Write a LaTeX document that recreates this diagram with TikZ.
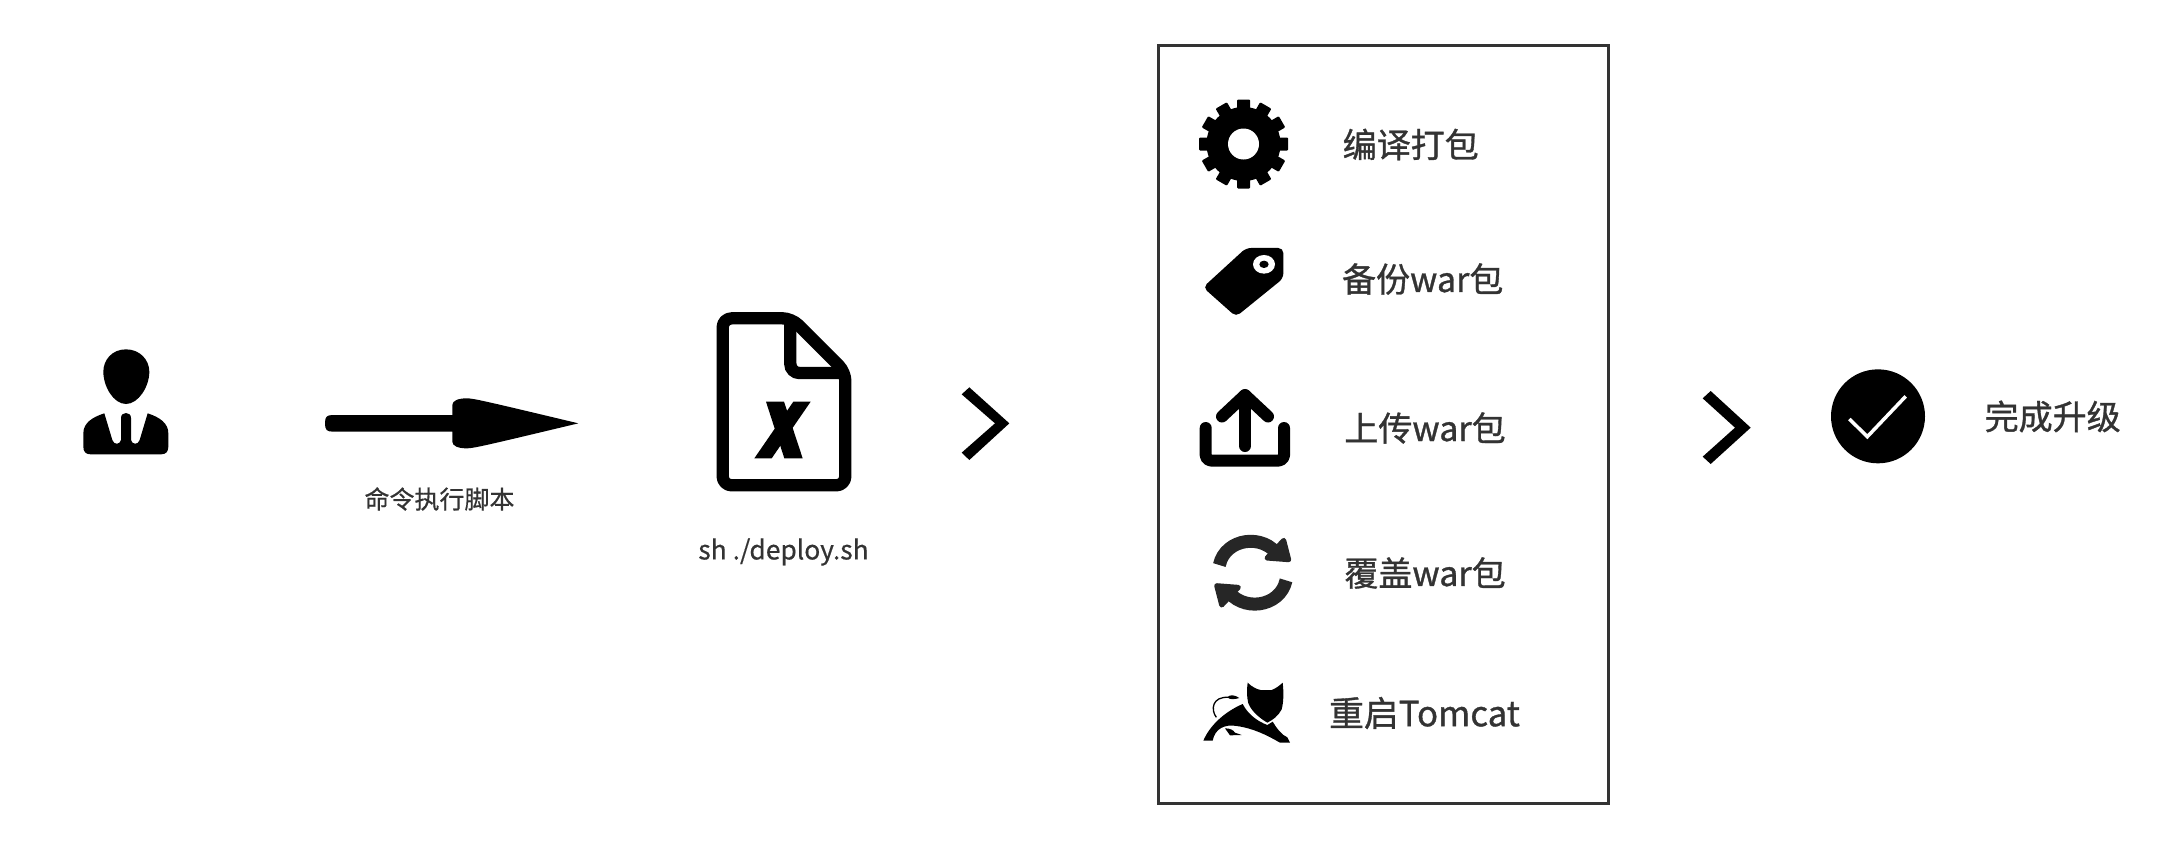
\documentclass[tikz,border=0pt]{standalone}
\usepackage{fontspec}
\setmainfont{Noto Sans CJK SC}
\newfontfamily\labelfont{Noto Sans CJK SC}[FakeBold=1]
\newfontfamily\smallfont{Noto Sans CJK SC}[FakeBold=0.5]
\definecolor{ink}{HTML}{333333}
\definecolor{refreshink}{HTML}{262626}
\tikzset{
  px/.style={x=0.33333pt,y=-0.33333pt},
  label/.style={text=ink,inner sep=0pt,font=\labelfont\fontsize{34}{40}\selectfont},
  smalllabel/.style={text=ink,inner sep=0pt,font=\smallfont\fontsize{25}{30}\selectfont},
  codelabel/.style={text=ink,inner sep=0pt,font=\smallfont\fontsize{26.4}{30}\selectfont},
  bar/.style={draw=black,line width=12pt,line cap=round,line join=round},
}
\begin{document}
\begin{tikzpicture}[x=1pt,y=-1pt]
\useasboundingbox[fill=white] (0,0) rectangle (2174,862);

% person
\begin{scope}[shift={(60,330)},px]
\fill[black] (198,58) .. controls (240,58) and (268,90) .. (268,125)
  .. controls (268,170) and (235,222) .. (198,222)
  .. controls (161,222) and (130,170) .. (130,125)
  .. controls (130,90) and (156,58) .. (198,58) -- cycle;
\fill[black] (133,250) -- (157,330) .. controls (161,345) and (180,345) .. (183,330)
  -- (183,264) .. controls (183,244) and (213,244) .. (213,264) -- (213,330)
  .. controls (216,345) and (235,345) .. (239,330) -- (263,250)
  .. controls (300,262) and (325,280) .. (325,310) -- (325,350)
  .. controls (325,365) and (318,373) .. (303,373) -- (92,373)
  .. controls (77,373) and (70,365) .. (70,350) -- (70,310)
  .. controls (70,280) and (95,262) .. (133,250) -- cycle;
\end{scope}

% arrow
\begin{scope}[shift={(310,380)},px]
\fill[black] (70,105) -- (427,105) -- (427,75)
  .. controls (427,62) and (445,55) .. (470,55)
  .. controls (490,55) and (520,62) .. (805,130)
  .. controls (520,198) and (490,205) .. (470,205)
  .. controls (445,205) and (427,198) .. (427,185)
  -- (427,155) -- (70,155) .. controls (50,155) and (45,150) .. (45,130)
  .. controls (45,110) and (50,105) .. (70,105) -- cycle;
\end{scope}
\node[smalllabel] (cmd) at (439.5,499) {命令执行脚本};

% script file
\begin{scope}[shift={(690,300)},px]
\draw[black,line width=12.3pt,rounded corners=9pt,line join=round]
  (98,300) -- (98,55) -- (305,55) -- (466,216) -- (466,556) -- (98,556) -- cycle;
\draw[black,line width=12.3pt,rounded corners=9pt] (301,50) -- (301,219) -- (466,219);
\fill[black] (228,305) -- (282,305) -- (338,475) -- (283,475) -- cycle;
\fill[black] (310,305) -- (362,305) -- (245,475) -- (193,475) -- cycle;
\fill[black] (815,283) -- (838,262) -- (958,370) -- (838,480) -- (815,458) -- (915,370) -- cycle;
\end{scope}
\node[codelabel] (cmdfile) at (783.5,552) {sh ./deploy.sh};

% steps box
\node[draw=ink,line width=3.5pt,minimum width=450pt,minimum height=758pt,inner sep=0pt,anchor=north west] (stepsbox) at (1156.5,43.5) {};

% gear
\begin{scope}[shift={(1243.5,144)}]
\fill[black] (0,0) circle[radius=37];
\foreach \a in {0,30,...,330}
  \fill[black,rotate=\a,rounded corners=1pt] (-6.5,-30) rectangle (6.5,-44.5);
\fill[white] (0,0) circle[radius=15.5];
\end{scope}
\node[label] (s1) at (1410.7,144.5) {编译打包};

% tag
\begin{scope}[shift={(1140,30)},px]
\fill[black,rounded corners=5pt] (318,654) -- (430,654) -- (430,745) -- (288,860) -- (189,772) -- cycle;
\fill[white] (372,703) ellipse[x radius=33,y radius=28];
\fill[black] (372,703) ellipse[x radius=14,y radius=11];
\end{scope}
\node[label] (s2) at (1422.7,279) {备份war包};

% upload
\draw[bar] (1245,395) -- (1245,446);
\draw[bar] (1222,416.5) -- (1245,395) -- (1268,416.5);
\draw[bar,rounded corners=5pt] (1205.7,428) -- (1205.7,460.5) -- (1284,460.5) -- (1284,428);
\node[label] (s3) at (1425,428) {上传war包};

% refresh
\begin{scope}[shift={(1252.7,572.7)},px]
\foreach \f in {1,-1}{
  \begin{scope}[xscale=\f,yscale=\f]
  \draw[refreshink,line width=13pt] (-100,-23) .. controls (-82,-105) and (34.3,-119.6) .. (78.4,-49);
  \fill[refreshink,draw=refreshink,line width=5pt,line join=round] (93,-97) -- (108,-39) -- (43,-44) -- cycle;
  \end{scope}
}
\end{scope}
\node[label] (s4) at (1425,573) {覆盖war包};

% tomcat
\begin{scope}[shift={(1140,420)},px]
\fill[black] (323,788) .. controls (335,800) and (350,808) .. (362,810)
  -- (395,810) .. controls (408,805) and (420,796) .. (428,788)
  .. controls (432,820) and (430,850) .. (425,868)
  .. controls (415,888) and (398,900) .. (382,908)
  .. controls (360,895) and (335,875) .. (325,850)
  .. controls (320,830) and (320,810) .. (323,788) -- cycle;
\fill[black] (190,962) .. controls (210,915) and (255,875) .. (308,852)
  .. controls (325,885) and (355,905) .. (382,915)
  -- (398,905) .. controls (410,925) and (425,945) .. (442,952)
  -- (450,968) -- (420,968) .. controls (380,945) and (340,925) .. (290,918)
  .. controls (255,912) and (225,925) .. (218,962) -- cycle;
\draw[black,line width=1.3pt] (229,892) .. controls (212,870) and (215,828) .. (268,832);
\fill[black] (262,832) .. controls (270,822) and (285,825) .. (298,834) .. controls (285,838) and (270,840) .. (262,832) -- cycle;
\fill[black] (255,925) .. controls (270,925) and (280,930) .. (285,938) -- (305,945) -- (270,946) -- cycle;
\end{scope}
\node[label,font=\labelfont\fontsize{34.8}{40}\selectfont] (s5) at (1424.5,713) {重启Tomcat};

% chevron and done
\begin{scope}[shift={(1660,340)},px]
\fill[black] (128,175) -- (152,153) -- (272,263) -- (152,372) -- (128,350) -- (225,263) -- cycle;
\fill[black] (654,229) circle[radius=141];
\draw[white,line width=3.5pt,miter limit=10] (568,237) -- (622,290) -- (737,169);
\end{scope}
\node[label] (done) at (2052.7,416.5) {完成升级};
\end{tikzpicture}
\end{document}
